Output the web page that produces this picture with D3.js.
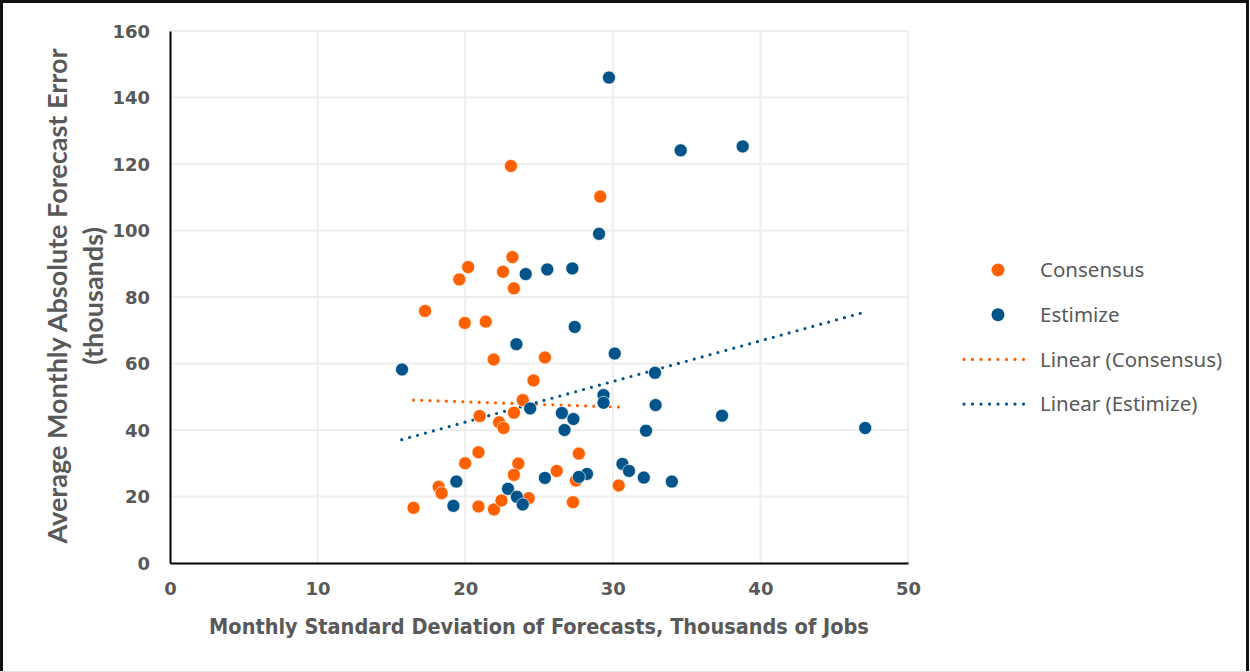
<!DOCTYPE html>
<html>
<head>
<meta charset="utf-8">
<script src="https://cdn.jsdelivr.net/npm/d3@7"></script>
<style>
	html, body { margin: 0; padding: 0; background: #fff; }
	svg { display: block; }
</style>
</head>
<body>
<svg id="chart" width="1250" height="672"></svg>
<script>
// values
const consensusX = [23.1, 29.15, 23.2, 20.2, 22.56, 19.6, 23.3, 17.28, 19.97, 21.39, 21.93, 25.4, 24.63, 23.9, 23.3, 20.98, 22.3,
	22.6, 20.9, 20.0, 27.7, 23.6, 23.3, 26.2, 27.5, 30.4, 18.2, 18.4, 16.5, 20.9, 21.95, 22.46, 24.3, 27.3];
const consensusY = [119.4, 110.2, 92.0, 89.0, 87.6, 85.3, 82.6, 75.8, 72.2, 72.6, 61.2, 61.8, 54.9, 49.0, 45.2, 44.2, 42.3,
	40.6, 33.3, 30.0, 32.9, 29.9, 26.5, 27.7, 24.8, 23.3, 22.9, 21.0, 16.6, 17.0, 16.1, 18.8, 19.5, 18.3];
const estimizeX = [29.74, 34.6, 38.8, 29.07, 24.1, 25.56, 27.26, 27.42, 23.47, 30.13, 15.72, 32.86, 29.37, 29.37, 32.9, 24.4, 26.55,
	27.33, 26.73, 32.25, 37.4, 47.1, 30.65, 31.1, 28.25, 27.7, 25.4, 32.1, 34.0, 19.4, 19.2, 22.9, 23.5, 23.9];
const estimizeY = [146.0, 124.1, 125.3, 99.0, 86.9, 88.3, 88.6, 71.0, 65.8, 63.0, 58.2, 57.2, 50.5, 48.2, 47.5, 46.5, 45.1,
	43.3, 40.0, 39.8, 44.3, 40.6, 29.8, 27.7, 26.8, 25.9, 25.6, 25.7, 24.5, 24.5, 17.2, 22.3, 19.9, 17.6];
// trendline end points (x, y)
const consensusTrend = [[16.5, 49.0], [30.4, 46.9]];
const estimizeTrend = [[15.7, 37.1], [47.1, 75.5]];
const xTicks = [0, 10, 20, 30, 40, 50];
const yTicks = [0, 20, 40, 60, 80, 100, 120, 140, 160];
const seriesNames = ["Consensus", "Estimize", "Linear (Consensus)", "Linear (Estimize)"];

const ORANGE = "#FF6000",
	BLUE = "#00548A",
	GRID = "#EEEEEE",
	TEXT = "#595959";

const svg = d3.select("#chart");

const x = d3.scaleLinear().domain([0, 50]).range([170, 908]);
const y = d3.scaleLinear().domain([0, 160]).range([563, 31]);

// outer frame
svg.append("rect")
	.attr("x", 1.5).attr("y", 1.5)
	.attr("width", 1246).attr("height", 680)
	.attr("fill", "none")
	.attr("stroke", "#111")
	.attr("stroke-width", 3);
svg.append("line")
	.attr("x1", 0).attr("x2", 1250)
	.attr("y1", 671.5).attr("y2", 671.5)
	.attr("stroke", "#e4e4e4");

// grid
svg.append("g")
	.selectAll("line")
	.data(yTicks.filter(d => d > 0))
	.join("line")
	.attr("x1", x(0)).attr("x2", x(50))
	.attr("y1", d => y(d)).attr("y2", d => y(d))
	.attr("stroke", GRID)
	.attr("stroke-width", 2);
svg.append("g")
	.selectAll("line")
	.data(xTicks.filter(d => d > 0))
	.join("line")
	.attr("x1", d => x(d)).attr("x2", d => x(d))
	.attr("y1", y(0)).attr("y2", y(160))
	.attr("stroke", GRID)
	.attr("stroke-width", 2);

// axes
const xAxis = svg.append("g")
	.attr("transform", `translate(0,${y(0)})`)
	.call(d3.axisBottom(x).tickValues(xTicks).tickSize(0).tickPadding(19).tickFormat(d3.format("d")));
const yAxis = svg.append("g")
	.attr("transform", `translate(${x(0)},0)`)
	.call(d3.axisLeft(y).tickValues(yTicks).tickSize(0).tickPadding(20).tickFormat(d3.format("d")));

[xAxis, yAxis].forEach(g => {
	g.select(".domain").attr("stroke", "#000").attr("stroke-width", 2);
	g.selectAll(".tick text")
		.attr("fill", TEXT)
		.attr("font-family", "'DejaVu Sans', sans-serif")
		.attr("font-weight", "bold")
		.attr("font-size", 18);
});
yAxis.selectAll(".tick text").attr("dy", "0.35em");

// trendlines
const line = d3.line().x(d => x(d[0])).y(d => y(d[1]));
svg.append("path")
	.datum(consensusTrend)
	.attr("d", line)
	.attr("fill", "none")
	.attr("stroke", ORANGE)
	.attr("stroke-width", 3.2)
	.attr("stroke-linecap", "round")
	.attr("stroke-dasharray", "0 8.2");
svg.append("path")
	.datum(estimizeTrend)
	.attr("d", line)
	.attr("fill", "none")
	.attr("stroke", BLUE)
	.attr("stroke-width", 3.2)
	.attr("stroke-linecap", "round")
	.attr("stroke-dasharray", "0 8.2");

// points
const drawPoints = (xs, ys, color) => {
	svg.append("g")
		.selectAll("circle")
		.data(xs.map((v, i) => [v, ys[i]]))
		.join("circle")
		.attr("cx", d => x(d[0]))
		.attr("cy", d => y(d[1]))
		.attr("r", 6.5)
		.attr("fill", color)
		.attr("stroke", "#fff")
		.attr("stroke-width", 0.6);
};
drawPoints(consensusX, consensusY, ORANGE);
drawPoints(estimizeX, estimizeY, BLUE);

// axis titles
svg.append("text")
	.attr("x", 539).attr("y", 634)
	.attr("text-anchor", "middle")
	.attr("fill", TEXT)
	.attr("font-family", "'DejaVu Sans Condensed', 'DejaVu Sans', sans-serif")
	.attr("font-weight", "bold")
	.attr("font-size", 21.5)
	.text("Monthly Standard Deviation of Forecasts, Thousands of Jobs");

const yTitle = svg.append("text")
	.attr("transform", "translate(0,296) rotate(-90)")
	.attr("text-anchor", "middle")
	.attr("fill", TEXT)
	.attr("font-family", "Lato, sans-serif")
	.attr("font-weight", "bold")
	.attr("font-size", 27);
yTitle.append("tspan").attr("x", 0).attr("y", 67).text("Average Monthly Absolute Forecast Error");
yTitle.append("tspan").attr("x", 0).attr("y", 103).text("(thousands)");

// legend
const legend = svg.append("g")
	.selectAll("g")
	.data(seriesNames)
	.join("g")
	.attr("transform", (d, i) => `translate(0,${270 + i * 44.7})`);

legend.filter((d, i) => i < 2)
	.append("circle")
	.attr("cx", 998).attr("cy", 0)
	.attr("r", 6.5)
	.attr("fill", (d, i) => i === 0 ? ORANGE : BLUE);

legend.filter((d, i) => i >= 2)
	.append("line")
	.attr("x1", 964).attr("x2", 1032)
	.attr("y1", 0).attr("y2", 0)
	.attr("stroke", d => d === "Linear (Consensus)" ? ORANGE : BLUE)
	.attr("stroke-width", 3.2)
	.attr("stroke-linecap", "round")
	.attr("stroke-dasharray", "0 8.5");

legend.append("text")
	.attr("x", 1040).attr("y", 0)
	.attr("dy", "0.35em")
	.attr("fill", TEXT)
	.attr("font-family", "'Noto Sans', sans-serif")
	.attr("font-size", 20.5)
	.text(d => d);
</script>
</body>
</html>
